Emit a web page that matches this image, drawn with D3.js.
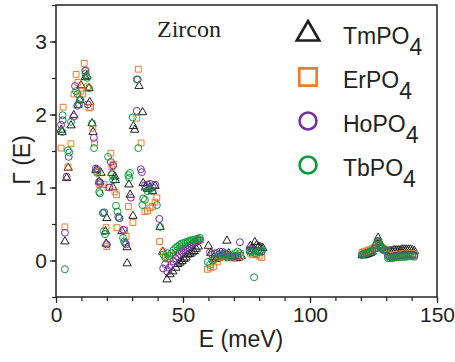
<!DOCTYPE html>
<html>
<head>
<meta charset="utf-8">
<title>Zircon</title>
<style>
  body { margin: 0; background: #fff; }
  svg text { font-family: "Liberation Sans", Arial, sans-serif; fill: #222; }
  .axis path { display: none; }
  .axis line { stroke: #222; stroke-width: 1.2px; }
  .axis text { font-size: 21px; }
</style>
</head>
<body>
<div id="chart"></div>
<script src="https://cdn.jsdelivr.net/npm/d3@7"></script>
<script>
// series names and colours
var seriesNames = ["TmPO4", "ErPO4", "HoPO4", "TbPO4"];
var seriesColors = ["#1e1e1e", "#ec7a2c", "#7232a0", "#0a9a3c"];
var xTicks = [0, 50, 100, 150];
var yTicks = [0, 1, 2, 3];

// [E (meV), Gamma(E)]
var tmData = [[2.0,1.79],[2.4,1.76],[3.5,0.26],[4.2,1.13],[4.8,1.27],[5.9,1.85],[7.0,1.99],[8.7,2.13],[9.4,2.20],[9.8,2.40],[11.5,2.51],[12.2,2.53],[13.0,2.36],[13.3,2.17],[14.2,1.88],[14.6,1.76],[15.7,1.24],[17.0,1.08],[17.7,1.20],[19.5,0.40],[19.7,0.23],[20.0,0.58],[22.0,1.20],[22.4,1.00],[23.2,1.15],[23.4,1.10],[26.0,0.40],[28.0,0.18],[28.0,-0.04],[28.7,1.04],[29.2,0.90],[30.3,0.61],[30.5,1.84],[31.0,1.79],[32.7,2.39],[34.1,2.03],[34.3,1.06],[35.2,1.00],[36.0,0.98],[37.0,1.00],[38.0,0.95],[39.0,1.02],[41.0,0.46],[42.0,0.12],
  [43.7,-0.26],[44.9,-0.19],[46.0,-0.15],[47.2,-0.10],[48.0,-0.05],[48.8,-0.03],[49.6,-0.01],[50.4,0.02],[51.2,0.04],[52.0,0.08],[52.8,0.09],[53.6,0.11],[54.4,0.13],[55.2,0.16],[56.0,0.19],
  [60.0,0.20],[61.0,0.10],[62.0,0.04],[63.0,0.02],[64.0,0.03],[65.0,0.05],[66.0,0.08],[67.3,0.27],[68.0,0.10],[69.0,0.05],[70.0,0.03],[71.0,0.03],[72.0,0.04],[73.0,0.06],
  [76.5,0.20],[77.3,0.18],[78.3,0.25],[79.0,0.21],[79.8,0.19],[80.6,0.18],[81.4,0.17],
  [120.5,0.07],[121.3,0.07],[122.1,0.08],[122.9,0.09],[123.7,0.10],[124.5,0.12],[125.3,0.16],[126.1,0.24],[126.8,0.31],[127.5,0.24],[128.3,0.18],[129.1,0.15],[129.9,0.14],[130.7,0.13],[131.5,0.13],[132.3,0.13],[133.1,0.14],[133.9,0.14],[134.7,0.14],[135.5,0.14],[136.3,0.15],[137.1,0.15],[137.9,0.15],[138.7,0.15],[139.5,0.15],[140.3,0.14],[141.1,0.13]];

var erData = [[2.0,1.54],[2.8,2.10],[3.5,0.46],[4.7,1.28],[5.9,1.60],[7.1,2.28],[7.9,2.55],[8.6,2.44],[9.8,2.32],[10.6,2.28],[11.1,2.70],[11.8,2.60],[12.4,2.38],[13.0,2.09],[13.6,2.10],[14.5,1.81],[15.2,1.61],[16.2,1.22],[17.0,1.04],[18.9,1.04],[19.7,0.45],[20.0,0.19],[20.5,1.00],[21.6,1.47],[22.0,1.28],[22.6,1.32],[23.2,0.94],[23.8,0.90],[24.0,0.45],[27.0,0.42],[27.6,0.33],[28.5,0.74],[30.3,0.52],[31.8,1.95],[32.4,2.62],[33.5,1.61],[35.0,0.67],[36.0,0.68],[37.0,0.72],[38.0,0.74],[39.0,0.80],[39.7,0.86],[40.8,0.26],
  [42.2,0.12],[43.0,0.05],[44.0,0.02],[45.0,0.03],[46.0,0.07],[47.0,0.11],[48.0,0.14],[49.0,0.17],[50.0,0.19],[51.0,0.21],[52.0,0.23],[53.0,0.24],[54.0,0.25],[55.0,0.26],[56.0,0.27],[57.0,0.28],
  [59.6,-0.12],[60.8,-0.10],[62.0,-0.08],[63.5,-0.02],[64.5,0.04],[65.5,0.06],[66.5,0.07],[67.7,0.05],[68.7,0.04],[69.7,0.04],[70.7,0.05],[71.7,0.06],[72.7,0.06],
  [76.5,0.10],[77.3,0.08],[78.1,0.10],[79.0,0.08],[80.0,0.06],[81.0,0.04],
  [120.5,0.11],[121.3,0.12],[122.1,0.13],[122.9,0.14],[123.7,0.15],[124.5,0.16],[125.3,0.18],[126.1,0.22],[126.8,0.26],[127.5,0.22],[128.3,0.18],[129.1,0.16],[129.9,0.15],[130.7,0.08],[131.5,0.07],[132.3,0.07],[133.1,0.08],[133.9,0.08],[134.7,0.08],[135.5,0.09],[136.3,0.09],[137.1,0.09],[137.9,0.09],[138.7,0.10],[139.5,0.10],[140.3,0.09],[141.1,0.09]];

var hoData = [[2.0,1.86],[2.6,1.92],[3.5,0.38],[4.2,1.15],[5.0,1.42],[7.0,1.97],[7.5,2.39],[8.4,2.12],[9.5,2.20],[11.5,2.60],[12.5,2.14],[14.9,1.68],[15.7,1.26],[16.5,1.24],[17.0,1.08],[17.5,1.06],[18.5,0.65],[19.0,0.66],[20.0,0.22],[21.0,1.00],[21.6,1.35],[22.5,1.30],[24.5,0.60],[25.0,0.58],[26.5,0.42],[27.2,0.24],[27.6,0.22],[29.5,0.86],[31.8,2.05],[32.2,2.48],[33.4,1.25],[33.8,1.21],[35.0,1.03],[36.0,1.04],[37.0,1.05],[38.0,1.00],[39.0,1.04],[40.7,0.57],
  [42.2,-0.11],[43.0,-0.05],[43.8,-0.15],[44.6,-0.10],[45.4,-0.06],[46.2,-0.01],[47.0,0.03],[47.8,0.06],[48.6,0.09],[49.4,0.12],[50.2,0.14],[51.0,0.16],[51.8,0.18],[52.6,0.20],[53.4,0.22],[54.2,0.24],[55.0,0.25],[55.8,0.27],[56.6,0.28],
  [60.6,0.11],[61.5,0.08],[62.5,0.10],[63.5,0.10],[64.5,0.12],[65.5,0.12],[66.5,0.10],[67.5,0.08],[68.5,0.06],[69.5,0.05],[70.5,0.06],[71.5,0.07],[72.4,0.25],
  [76.2,0.14],[77.0,0.16],[77.8,0.15],[78.6,0.14],[79.4,0.13],[80.2,0.12],[81.0,0.12],
  [120.5,0.08],[121.3,0.09],[122.1,0.10],[122.9,0.11],[123.7,0.12],[124.5,0.13],[125.3,0.16],[126.1,0.21],[126.8,0.26],[127.5,0.21],[128.3,0.17],[129.1,0.14],[129.9,0.13],[130.7,0.06],[131.5,0.05],[132.3,0.05],[133.1,0.06],[133.9,0.06],[134.7,0.07],[135.5,0.07],[136.3,0.07],[137.1,0.08],[137.9,0.08],[138.7,0.08],[139.5,0.08],[140.3,0.08],[141.1,0.07]];

var tbData = [[2.5,1.76],[2.6,1.99],[3.5,-0.12],[4.7,1.51],[5.2,1.48],[5.9,1.90],[7.9,2.32],[8.5,2.28],[9.1,2.14],[9.6,2.20],[11.6,2.56],[12.3,2.50],[13.0,2.36],[14.2,1.88],[15.0,1.54],[16.2,1.20],[17.0,0.94],[17.3,0.92],[18.5,0.65],[18.9,0.40],[19.3,0.36],[20.5,1.42],[22.0,1.18],[22.5,1.10],[23.6,0.75],[24.2,0.67],[24.8,0.58],[26.4,0.31],[26.8,0.26],[28.5,1.17],[28.8,1.13],[29.1,1.20],[30.2,1.96],[31.8,2.48],[32.4,1.54],[34.0,0.76],[34.3,0.85],[35.0,0.83],[36.0,0.95],[37.0,0.98],[38.0,0.95],[39.7,0.76],[41.0,0.46],
  [42.3,0.08],[43.0,0.04],[43.8,0.10],[44.6,0.06],[45.4,0.10],[46.2,0.14],[47.0,0.17],[47.8,0.19],[48.6,0.21],[49.4,0.23],[50.2,0.24],[51.0,0.25],[51.8,0.26],[52.6,0.27],[53.4,0.28],[54.2,0.28],[55.0,0.29],[55.8,0.30],[56.6,0.31],
  [59.8,-0.02],[60.6,-0.06],[61.5,0.00],[62.5,0.02],[63.5,0.05],[64.5,0.08],[65.5,0.09],[66.5,0.06],[67.5,0.04],[68.5,0.06],[69.5,0.07],[70.5,0.10],[71.5,0.12],[72.5,0.10],
  [76.3,0.12],[77.1,0.12],[78.0,-0.23],[78.6,0.10],[79.4,0.12],[80.2,0.13],[81.0,0.14],
  [120.5,0.08],[121.3,0.09],[122.1,0.10],[122.9,0.11],[123.7,0.12],[124.5,0.13],[125.3,0.16],[126.1,0.22],[126.8,0.27],[127.5,0.22],[128.3,0.17],[129.1,0.15],[129.9,0.14],[130.7,0.03],[131.5,0.03],[132.3,0.03],[133.1,0.04],[133.9,0.04],[134.7,0.05],[135.5,0.05],[136.3,0.05],[137.1,0.05],[137.9,0.05],[138.7,0.06],[139.5,0.06],[140.3,0.06],[141.1,0.05]];

var allSeries = [tmData, erData, hoData, tbData];
var symbolTypes = [d3.symbolTriangle, d3.symbolSquare, d3.symbolCircle, d3.symbolCircle];
var symbolSizes = [30, 34, 38, 38];
var legendSizes = [220, 300, 225, 225];

var width = 455, height = 362;
var margin = {top: 5, right: 18, bottom: 65, left: 56};

var svg = d3.select("#chart").append("svg")
    .attr("width", width)
    .attr("height", height);

var x = d3.scaleLinear().domain([0, 150]).range([margin.left, width - margin.right]);
var y = d3.scaleLinear().domain([-0.5, 3.5]).range([height - margin.bottom, margin.top]);

// minor ticks
svg.append("g").attr("class", "axis")
    .attr("transform", "translate(0," + (height - margin.bottom) + ")")
    .call(d3.axisBottom(x).tickValues(d3.range(0, 151, 10)).tickSize(4).tickFormat(""));
svg.append("g").attr("class", "axis")
    .attr("transform", "translate(" + margin.left + ",0)")
    .call(d3.axisLeft(y).tickValues(d3.range(-0.5, 3.51, 0.5)).tickSize(4).tickFormat(""));

// major ticks
svg.append("g").attr("class", "axis")
    .attr("transform", "translate(0," + (height - margin.bottom) + ")")
    .call(d3.axisBottom(x).tickValues(xTicks).tickSize(6).tickPadding(4).tickFormat(d3.format("d")));
svg.append("g").attr("class", "axis")
    .attr("transform", "translate(" + margin.left + ",0)")
    .call(d3.axisLeft(y).tickValues(yTicks).tickSize(6).tickPadding(3).tickFormat(d3.format("d")));

// data
var plot = svg.append("g");
allSeries.forEach(function(data, i) {
    plot.selectAll(".s" + i)
        .data(data)
        .enter().append("path")
        .attr("class", "s" + i)
        .attr("d", d3.symbol().type(symbolTypes[i]).size(symbolSizes[i]))
        .attr("transform", function(d) { return "translate(" + x(d[0]) + "," + y(d[1]) + ")"; })
        .attr("fill", "none")
        .attr("stroke", seriesColors[i])
        .attr("stroke-width", 1);
});

// frame
svg.append("rect")
    .attr("x", margin.left)
    .attr("y", margin.top)
    .attr("width", width - margin.left - margin.right)
    .attr("height", height - margin.top - margin.bottom)
    .attr("fill", "none")
    .attr("stroke", "#222")
    .attr("stroke-width", 1.5);

// label inside
svg.append("text")
    .attr("x", 157).attr("y", 37)
    .style("font-family", "'Liberation Serif', 'Times New Roman', serif")
    .style("font-size", "24px")
    .text("Zircon");

// legend
var legend = svg.append("g");
seriesNames.forEach(function(name, i) {
    var ly = 33 + i * 44;
    legend.append("path")
        .attr("d", d3.symbol().type(symbolTypes[i]).size(legendSizes[i]))
        .attr("transform", "translate(308," + (i === 0 ? ly + 1 : ly) + ")")
        .attr("fill", "none")
        .attr("stroke", seriesColors[i])
        .attr("stroke-width", 2.6);
    var t = legend.append("text")
        .attr("x", 343).attr("y", ly + 11)
        .style("font-size", "23px");
    t.append("tspan").text(name.slice(0, -1));
    t.append("tspan").attr("dy", 11).text(name.slice(-1));
});

// axis titles
svg.append("text")
    .attr("x", 241).attr("y", 347)
    .attr("text-anchor", "middle")
    .style("font-size", "23px")
    .text("E (meV)");
svg.append("text")
    .attr("transform", "translate(30,160) rotate(-90)")
    .attr("text-anchor", "middle")
    .style("font-size", "23px")
    .text("\u0393 (E)");
</script>
</body>
</html>
